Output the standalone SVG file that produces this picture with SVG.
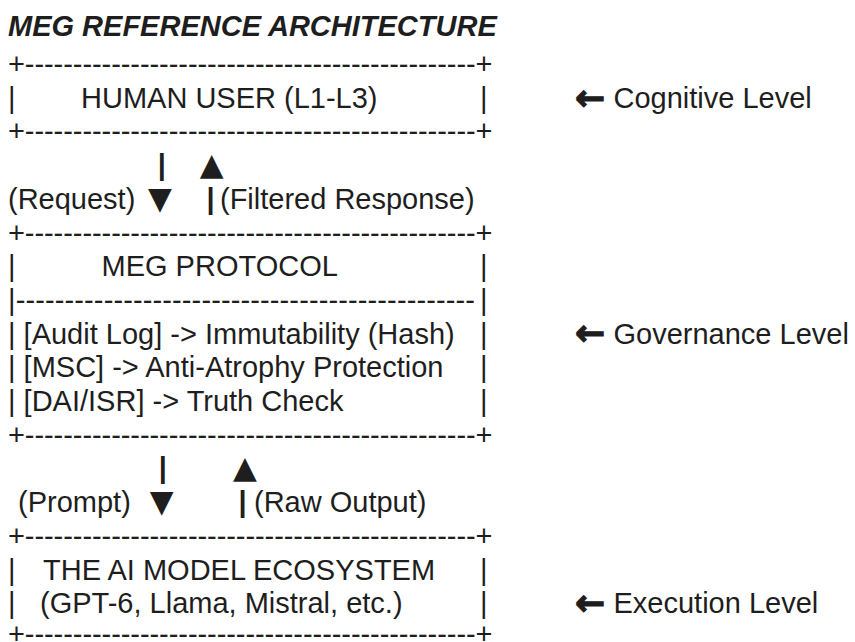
<svg xmlns="http://www.w3.org/2000/svg" width="855" height="642" viewBox="0 0 855 642">
<style>
text{font-family:"Liberation Sans",Arial,sans-serif;font-size:29px;fill:#1e1e1e;white-space:pre}
.title{font-weight:bold;font-style:italic}
.b{font-weight:bold}
.mid{text-anchor:middle}
.tri{font-family:"DejaVu Sans",sans-serif;font-size:31px;text-anchor:middle}
.arr{font-family:"DejaVu Sans",sans-serif;font-weight:bold;font-size:36px;stroke:#1e1e1e;stroke-width:1.2}
</style>
<rect width="855" height="642" fill="#ffffff"/>
<g id="title"><text class="title" x="8" y="36">MEG REFERENCE ARCHITECTURE</text></g>

<g id="node-human-user">
<text x="8" y="74" textLength="484.5" lengthAdjust="spacing">+-----------------------------------------------+</text>
<text x="8" y="107.7">|</text><text x="81" y="107.7">HUMAN USER (L1-L3)</text><text x="480" y="107.7">|</text>
<text x="8" y="141.4" textLength="484.5" lengthAdjust="spacing">+-----------------------------------------------+</text>
</g>

<g id="connectors">
<g id="conn-request-response">
<text class="b mid" x="161.7" y="175.1">|</text><text class="tri" x="211.7" y="175.1">▲</text>
<text x="8" y="208.8">(Request)</text><text class="tri" x="160" y="208.8">▼</text><text class="b mid" x="210.5" y="208.8">|</text><text x="220" y="208.8">(Filtered Response)</text>
</g>
<g id="conn-prompt-output">
<text class="b mid" x="162.7" y="478.4">|</text><text class="tri" x="245" y="478.4">▲</text>
<text x="18" y="512.1">(Prompt)</text><text class="tri" x="161.7" y="512.1">▼</text><text class="b mid" x="242.5" y="512.1">|</text><text x="254" y="512.1">(Raw Output)</text>
</g>
</g>

<g id="node-meg-protocol">
<text x="8" y="242.5" textLength="484.5" lengthAdjust="spacing">+-----------------------------------------------+</text>
<text x="8" y="276.2">|</text><text x="101.5" y="276.2">MEG PROTOCOL</text><text x="480" y="276.2">|</text>
<text x="8" y="309.9" textLength="467" lengthAdjust="spacing">|-----------------------------------------------</text><text x="480" y="309.9">|</text>
<text x="8" y="343.6">| [Audit Log] -&gt; Immutability (Hash)</text><text x="480" y="343.6">|</text>
<text x="8" y="377.3">| [MSC] -&gt; Anti-Atrophy Protection</text><text x="480" y="377.3">|</text>
<text x="8" y="411">| [DAI/ISR] -&gt; Truth Check</text><text x="480" y="411">|</text>
<text x="8" y="444.7" textLength="484.5" lengthAdjust="spacing">+-----------------------------------------------+</text>
</g>

<g id="node-ai-ecosystem">
<text x="8" y="545.8" textLength="484.5" lengthAdjust="spacing">+-----------------------------------------------+</text>
<text x="8" y="579.5">|</text><text x="43" y="579.5">THE AI MODEL ECOSYSTEM</text><text x="480" y="579.5">|</text>
<text x="8" y="613.2">|</text><text x="40" y="613.2">(GPT-6, Llama, Mistral, etc.)</text><text x="480" y="613.2">|</text>
<text x="8" y="643.5" textLength="484.5" lengthAdjust="spacing">+-----------------------------------------------+</text>
</g>

<g id="level-labels">
<g id="label-cognitive"><text class="arr" x="575" y="109.5">←</text><text x="613.5" y="107.7">Cognitive Level</text></g>
<g id="label-governance"><text class="arr" x="575" y="345.4">←</text><text x="613.5" y="343.6">Governance Level</text></g>
<g id="label-execution"><text class="arr" x="575" y="615">←</text><text x="613.5" y="613.2">Execution Level</text></g>
</g>
</svg>
